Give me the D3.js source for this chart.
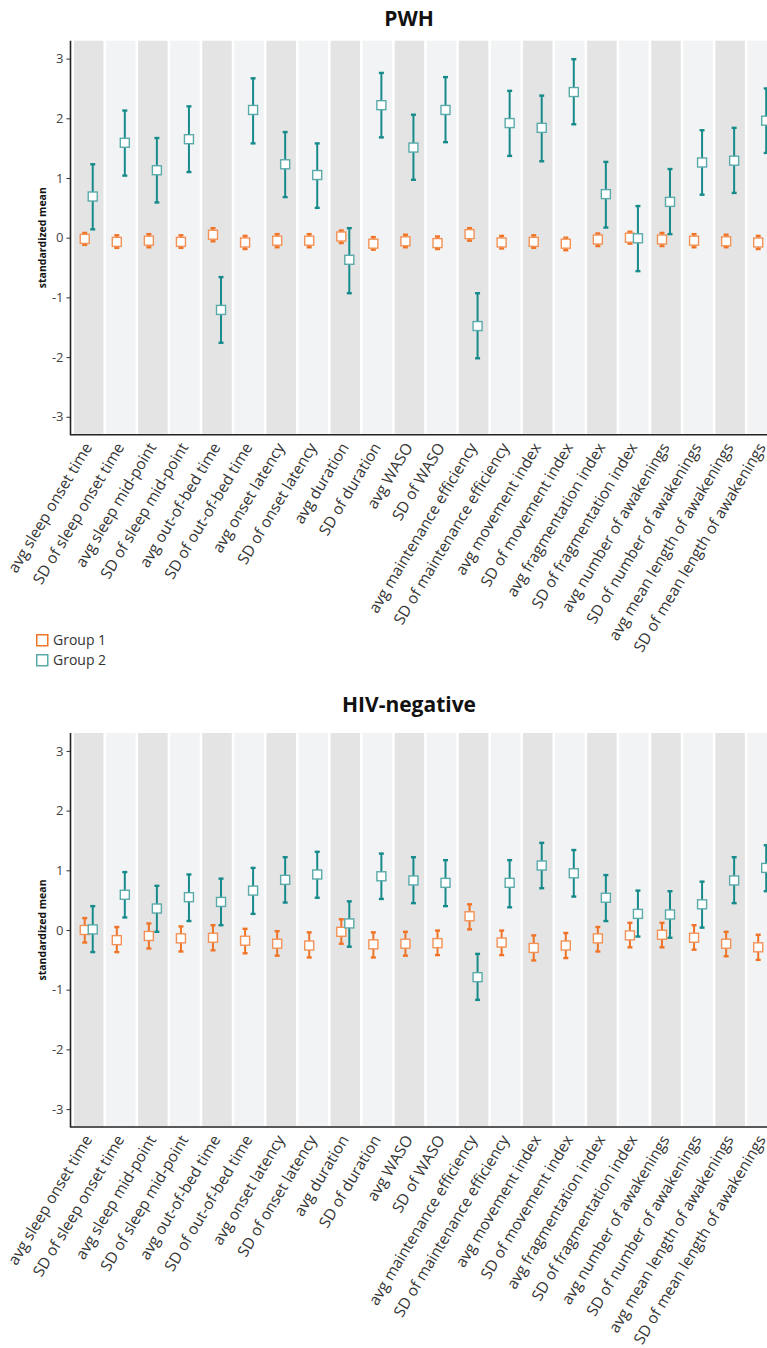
<!DOCTYPE html>
<html>
<head>
<meta charset="utf-8">
<script src="https://cdn.jsdelivr.net/npm/d3@7"></script>
<style>
	body { margin: 0; background: #fff; }
	text { font-family: "Open Sans", sans-serif; }
</style>
</head>
<body>
<svg id="svg_main" width="767" height="1348"></svg>
<script>
var categories = ["avg sleep onset time", "SD of sleep onset time", "avg sleep mid-point", "SD of sleep mid-point",
	"avg out-of-bed time", "SD of out-of-bed time", "avg onset latency", "SD of onset latency", "avg duration",
	"SD of duration", "avg WASO", "SD of WASO", "avg maintenance efficiency", "SD of maintenance efficiency",
	"avg movement index", "SD of movement index", "avg fragmentation index", "SD of fragmentation index",
	"avg number of awakenings", "SD of number of awakenings", "avg mean length of awakenings",
	"SD of mean length of awakenings"];
var yTicks = [-3, -2, -1, 0, 1, 2, 3];
var groupNames = ["Group 1", "Group 2"];

// PWH
var pwhG1Mean = [-0.02, -0.07, -0.05, -0.07, 0.05, -0.08, -0.05, -0.05, 0.02, -0.10, -0.06, -0.09, 0.06, -0.08, -0.07, -0.10, -0.03, 0.00, -0.03, -0.05, -0.06, -0.08];
var pwhG1Lo = [-0.12, -0.17, -0.16, -0.17, -0.06, -0.19, -0.16, -0.16, -0.09, -0.20, -0.16, -0.19, -0.05, -0.18, -0.17, -0.21, -0.14, -0.10, -0.14, -0.16, -0.16, -0.19];
var pwhG1Hi = [0.08, 0.04, 0.06, 0.04, 0.16, 0.03, 0.06, 0.06, 0.12, 0.01, 0.05, 0.02, 0.16, 0.03, 0.04, 0.00, 0.07, 0.10, 0.08, 0.06, 0.05, 0.03];
var pwhG2Mean = [0.69, 1.59, 1.13, 1.65, -1.21, 2.14, 1.23, 1.05, -0.37, 2.22, 1.51, 2.14, -1.48, 1.92, 1.84, 2.44, 0.73, -0.01, 0.60, 1.26, 1.29, 1.96];
var pwhG2Lo = [0.14, 1.04, 0.59, 1.10, -1.76, 1.58, 0.68, 0.50, -0.93, 1.68, 0.97, 1.60, -2.02, 1.37, 1.28, 1.90, 0.17, -0.56, 0.06, 0.72, 0.75, 1.42];
var pwhG2Hi = [1.23, 2.13, 1.67, 2.20, -0.66, 2.67, 1.77, 1.58, 0.16, 2.76, 2.06, 2.69, -0.93, 2.46, 2.38, 2.99, 1.27, 0.53, 1.15, 1.80, 1.84, 2.50];

// HIV-negative
var hivG1Mean = [0.00, -0.17, -0.10, -0.14, -0.13, -0.18, -0.23, -0.26, -0.03, -0.24, -0.23, -0.22, 0.23, -0.21, -0.30, -0.26, -0.14, -0.09, -0.08, -0.13, -0.23, -0.29];
var hivG1Lo = [-0.21, -0.37, -0.31, -0.36, -0.34, -0.39, -0.43, -0.46, -0.23, -0.46, -0.43, -0.42, 0.01, -0.42, -0.51, -0.47, -0.36, -0.29, -0.29, -0.33, -0.44, -0.50];
var hivG1Hi = [0.20, 0.05, 0.11, 0.06, 0.08, 0.02, -0.02, -0.04, 0.18, -0.04, -0.03, -0.01, 0.43, -0.01, -0.09, -0.05, 0.05, 0.12, 0.12, 0.08, -0.03, -0.08];
var hivG2Mean = [0.01, 0.59, 0.36, 0.55, 0.47, 0.66, 0.84, 0.93, 0.11, 0.90, 0.83, 0.79, -0.79, 0.79, 1.08, 0.95, 0.54, 0.27, 0.26, 0.43, 0.83, 1.04];
var hivG2Lo = [-0.37, 0.21, -0.03, 0.15, 0.08, 0.27, 0.46, 0.54, -0.28, 0.52, 0.45, 0.40, -1.17, 0.38, 0.70, 0.56, 0.15, -0.11, -0.13, 0.04, 0.45, 0.65];
var hivG2Hi = [0.40, 0.97, 0.74, 0.93, 0.86, 1.04, 1.22, 1.31, 0.48, 1.28, 1.22, 1.17, -0.40, 1.17, 1.46, 1.34, 0.92, 0.66, 0.65, 0.81, 1.22, 1.42];

var colors = {
	g1: "#f07427", g1Box: "#f39256",
	g2: "#178b8b", g2Box: "#5aaaaa",
	dark: "#e4e4e4", light: "#f2f3f4"
};

function makeSeries(mean, lo, hi) {
	return mean.map(function(m, i) {
		return { "cat": categories[i], "mean": m, "lo": lo[i], "hi": hi[i] };
	});
}

var svg = d3.select("#svg_main");

function drawPanel(title, titleY, top, g1, g2) {
	var margin = { top: top, left: 70.5, bottom: top + 394 };
	var g = svg.append("g");

	var x = d3.scaleBand()
		.domain(categories)
		.range([72.7, 72.7 + 22 * 32.07])
		.paddingInner(0.08)
		.paddingOuter(0.04);
	var y = d3.scaleLinear()
		.domain([-3.3, 3.3])
		.range([margin.bottom, margin.top]);

	g.append("text")
		.attr("x", 409)
		.attr("y", titleY)
		.attr("text-anchor", "middle")
		.attr("font-size", 21)
		.attr("font-weight", "bold")
		.attr("fill", "#111")
		.text(title);

	// stripes
	g.selectAll("rect.band").data(categories).enter()
		.append("rect")
		.attr("class", "band")
		.attr("x", function(d) { return x(d); })
		.attr("y", margin.top)
		.attr("width", x.bandwidth())
		.attr("height", margin.bottom - margin.top - 1)
		.attr("fill", function(d, i) { return i % 2 == 0 ? colors.dark : colors.light; });

	// y axis
	var yAxis = d3.axisLeft(y)
		.tickValues(yTicks)
		.tickSize(4)
		.tickFormat(function(d) { return d < 0 ? "-" + Math.abs(d) : String(d); });
	var ga = g.append("g")
		.attr("transform", "translate(" + margin.left + ",0)")
		.call(yAxis);
	ga.select(".domain").remove();
	ga.selectAll(".tick line").attr("stroke", "#333");
	ga.selectAll(".tick text")
		.attr("font-size", 13)
		.attr("fill", "#444")
		.attr("font-family", "Open Sans, sans-serif")
		.attr("x", -7);

	g.append("line")
		.attr("x1", margin.left).attr("x2", margin.left)
		.attr("y1", margin.top).attr("y2", margin.bottom + 0.5)
		.attr("stroke", "#222").attr("stroke-width", 1.6);
	g.append("line")
		.attr("x1", margin.left).attr("x2", 767)
		.attr("y1", margin.bottom).attr("y2", margin.bottom)
		.attr("stroke", "#222").attr("stroke-width", 1.6);

	g.append("text")
		.attr("transform", "translate(46," + ((margin.top + margin.bottom) / 2) + ") rotate(-90)")
		.attr("text-anchor", "middle")
		.attr("font-size", 10.5)
		.attr("font-weight", "bold")
		.attr("fill", "#111")
		.text("standardized mean");

	// x labels
	g.selectAll("text.xlab").data(categories).enter()
		.append("text")
		.attr("class", "xlab")
		.attr("transform", function(d) {
			return "translate(" + (x(d) + x.bandwidth() / 2) + "," + (margin.bottom + 10) + ") rotate(-59)";
		})
		.attr("text-anchor", "end")
		.attr("dy", "0.3em")
		.attr("font-size", 15.5)
		.attr("fill", "#333")
		.text(function(d) { return d; });

	var series = [
		{ data: g1, off: -4, line: colors.g1, box: colors.g1Box },
		{ data: g2, off: 4, line: colors.g2, box: colors.g2Box }
	];
	series.forEach(function(s) {
		var gs = g.append("g");
		var cx = function(d) { return x(d.cat) + x.bandwidth() / 2 + s.off; };
		gs.selectAll("line.err").data(s.data).enter()
			.append("line")
			.attr("x1", cx).attr("x2", cx)
			.attr("y1", function(d) { return y(d.lo); })
			.attr("y2", function(d) { return y(d.hi); })
			.attr("stroke", s.line)
			.attr("stroke-width", 2);
		["lo", "hi"].forEach(function(k) {
			gs.selectAll("line.cap" + k).data(s.data).enter()
				.append("line")
				.attr("x1", function(d) { return cx(d) - 2.5; })
				.attr("x2", function(d) { return cx(d) + 2.5; })
				.attr("y1", function(d) { return y(d[k]); })
				.attr("y2", function(d) { return y(d[k]); })
				.attr("stroke", s.line)
				.attr("stroke-width", 2.4);
		});
		gs.selectAll("rect.pt").data(s.data).enter()
			.append("rect")
			.attr("x", function(d) { return cx(d) - 4.5; })
			.attr("y", function(d) { return y(d.mean) - 4.5; })
			.attr("width", 9)
			.attr("height", 9)
			.attr("fill", "#fff")
			.attr("stroke", s.box)
			.attr("stroke-width", 1.4);
	});
}

drawPanel("PWH", 26, 40.7,
	makeSeries(pwhG1Mean, pwhG1Lo, pwhG1Hi),
	makeSeries(pwhG2Mean, pwhG2Lo, pwhG2Hi));
drawPanel("HIV-negative", 712, 733,
	makeSeries(hivG1Mean, hivG1Lo, hivG1Hi),
	makeSeries(hivG2Mean, hivG2Lo, hivG2Hi));

// legend
var legend = svg.append("g").attr("transform", "translate(36,634)");
var leg = legend.selectAll("g").data(groupNames).enter()
	.append("g")
	.attr("transform", function(d, i) { return "translate(0," + (i * 20) + ")"; });
leg.append("rect")
	.attr("x", 0.75).attr("y", 0.75)
	.attr("width", 11).attr("height", 11)
	.attr("fill", "#fff")
	.attr("stroke", function(d, i) { return i == 0 ? colors.g1 : colors.g2Box; })
	.attr("stroke-width", 1.5);
leg.append("text")
	.attr("x", 17)
	.attr("y", 6)
	.attr("dy", "0.35em")
	.attr("font-size", 14)
	.attr("fill", "#333")
	.text(function(d) { return d; });
</script>
</body>
</html>
